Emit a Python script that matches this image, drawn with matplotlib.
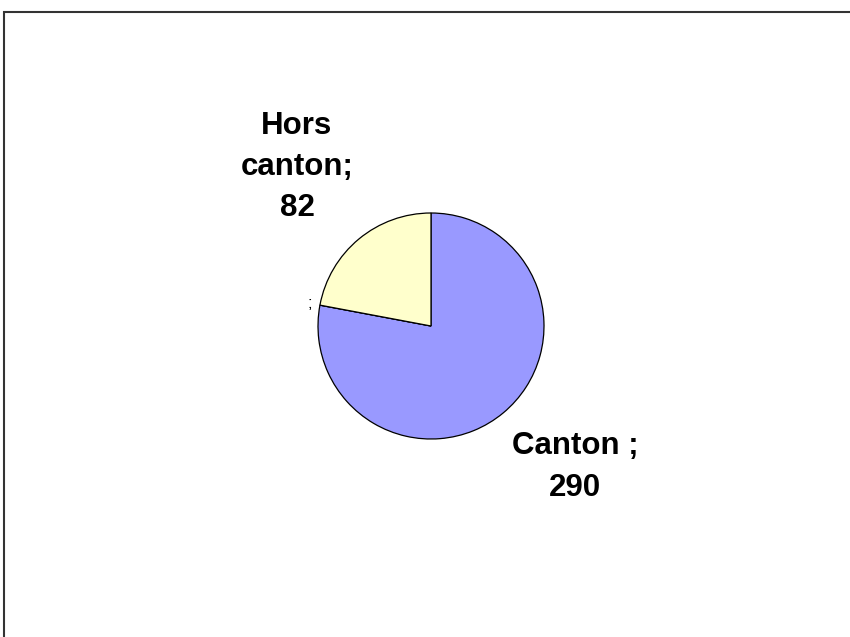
import numpy as np
import matplotlib
matplotlib.use("Agg")
import matplotlib.pyplot as plt
from matplotlib.patches import Rectangle

# === Données ===
categories = ["Canton", "", "Hors canton"]
valeurs = [290, 0, 82]
etiquettes = ["Canton ;\n290", ";", "Hors\ncanton;\n82"]
couleurs = ["#9999FF", "#FFFFFF", "#FFFFCC"]

# === Figure en coordonnées pixels ===
W, H = 850, 637
fig = plt.figure(figsize=(W / 100, H / 100), dpi=100)
ax = fig.add_axes([0, 0, 1, 1])

centre = (431, H - 326)
rayon = 113

wedges, _ = ax.pie(valeurs, colors=couleurs, startangle=90, counterclock=False,
                   center=centre, radius=rayon,
                   wedgeprops=dict(edgecolor="black", linewidth=0.9))

ax.set_xlim(0, W)
ax.set_ylim(0, H)
ax.set_aspect("equal")
ax.axis("off")

# positions des étiquettes (pixels de l'image, y vers le bas)
pos_etiq = [(575, 467), (310, 304), (297, 167)]
tailles = [22.5, 12, 22.5]
graisses = ["bold", "normal", "bold"]
for lab, (x, y), t, g in zip(etiquettes, pos_etiq, tailles, graisses):
    ax.text(x, H - y, lab, ha="center", va="center", fontsize=t, fontweight=g,
            family="Liberation Sans", linespacing=1.48)

# cadre du graphique
ax.add_patch(Rectangle((4.5, -20), 900, H - 11.5 + 20, fill=False,
                       edgecolor="#333333", linewidth=1.5, clip_on=False))

fig.savefig("out.png", dpi=100)
